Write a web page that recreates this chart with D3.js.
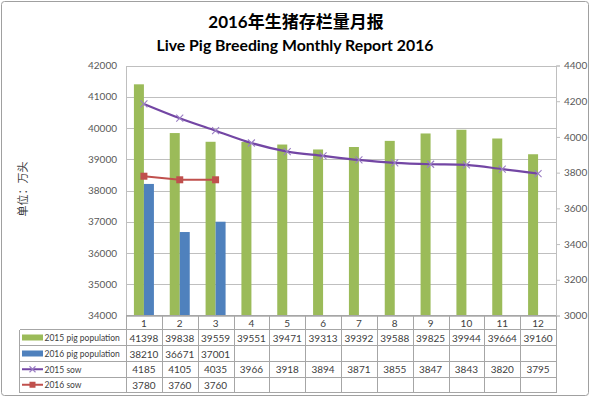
<!DOCTYPE html>
<html><head><meta charset="utf-8">
<script src="https://cdn.jsdelivr.net/npm/d3@7"></script>
<style>
html,body{margin:0;padding:0;background:#fff;}
svg{display:block;font-family:Lato,"Noto Sans CJK SC",sans-serif;}
</style></head>
<body><svg id="c" width="591" height="398"></svg>
<script>
const months = ["1","2","3","4","5","6","7","8","9","10","11","12"];
const pig2015 = [41398,39838,39559,39551,39471,39313,39392,39588,39825,39944,39664,39160];
const pig2016 = [38210,36671,37001];
const sow2015 = [4185,4105,4035,3966,3918,3894,3871,3855,3847,3843,3820,3795];
const sow2016 = [3780,3760,3760];
const leftTicks = [34000,35000,36000,37000,38000,39000,40000,41000,42000];
const rightTicks = [3000,3200,3400,3600,3800,4000,4200,4400];
const seriesNames = ["2015 pig population","2016 pig population","2015 sow","2016 sow"];
const title1 = "2016年生猪存栏量月报";
const title2 = "Live Pig Breeding Monthly Report 2016";
const yLabel = "单位：万头";

const svg = d3.select("#c");
const L=126, R=556, T=65.5, B=315.5;
const rows = [315.5,329.5,345.5,361.5,377,392.5];
const tableLeft = 19.5;
const green="#9BBB59", blue="#4F81BD", purple="#7346A4", red="#C0504D";
const gridC="#BFBFBF", tableC="#A6A6A6", txtC="#404040";

svg.append("rect").attr("x",1.5).attr("y",1.5).attr("width",587).attr("height",394)
  .attr("rx",3).attr("fill","#fff").attr("stroke","#A0A0A0");

const x = d3.scaleBand().domain(months).range([L,R]);
const yL = d3.scaleLinear().domain([34000,42000]).range([B,T]);
const yR = d3.scaleLinear().domain([3000,4400]).range([B,T]);

// titles
svg.append("text").attr("x",296).attr("y",28).attr("text-anchor","middle")
  .attr("font-size",17).attr("font-weight","bold").attr("fill","#000").text(title1);
svg.append("text").attr("x",295).attr("y",51).attr("text-anchor","middle")
  .attr("font-size",16).attr("font-weight","bold").attr("fill","#000")
  .attr("textLength",277).attr("lengthAdjust","spacingAndGlyphs").text(title2);

// gridlines
svg.append("g").selectAll("line").data(leftTicks).join("line")
  .attr("x1",L).attr("x2",R).attr("y1",d=>Math.round(yL(d))+0.5).attr("y2",d=>Math.round(yL(d))+0.5)
  .attr("stroke",gridC);

// left axis
const gl = svg.append("g").attr("transform",`translate(${L},0)`)
  .call(d3.axisLeft(yL).tickValues(leftTicks).tickSize(0).tickPadding(9).tickFormat(d3.format("d")));
gl.select(".domain").attr("stroke",gridC);
gl.selectAll("text").attr("font-size",10).attr("fill","#595959").attr("font-family","Lato,sans-serif");

// right axis
const gr = svg.append("g").attr("transform",`translate(${R},0)`)
  .call(d3.axisRight(yR).tickValues(rightTicks).tickSize(4).tickPadding(4).tickFormat(d3.format("d")));
gr.select(".domain").attr("stroke",gridC);
gr.selectAll("line").attr("stroke",gridC);
gr.selectAll("text").attr("font-size",10).attr("fill","#595959").attr("font-family","Lato,sans-serif");

// y label
svg.append("text").attr("transform","translate(27,189) rotate(-90)").attr("text-anchor","middle")
  .attr("font-size",11).attr("fill","#404040").text(yLabel);

// bars
const bw = 10;
svg.append("g").selectAll("rect").data(pig2015).join("rect")
  .attr("x",(d,i)=>x(months[i])+x.bandwidth()/2-bw).attr("width",bw)
  .attr("y",d=>yL(d)).attr("height",d=>B-yL(d)).attr("fill",green);
svg.append("g").selectAll("rect").data(pig2016).join("rect")
  .attr("x",(d,i)=>x(months[i])+x.bandwidth()/2).attr("width",bw)
  .attr("y",d=>yL(d)).attr("height",d=>B-yL(d)).attr("fill",blue);

// lines
const cx = i => x(months[i])+x.bandwidth()/2;
const line2015 = d3.line().x((d,i)=>cx(i)).y(d=>yR(d)).curve(d3.curveCatmullRom.alpha(0.5));
svg.append("path").datum(sow2015).attr("d",line2015).attr("fill","none").attr("stroke",purple).attr("stroke-width",2.2);
const xMark = (g,px,py,s,c)=>{
  g.append("path").attr("d",`M${px-s},${py-s}L${px+s},${py+s}M${px-s},${py+s}L${px+s},${py-s}`)
   .attr("stroke",c).attr("stroke-width",1.1).attr("fill","none");
};
const gm = svg.append("g");
sow2015.forEach((d,i)=>xMark(gm,cx(i),yR(d),3.5,"#9B7FC4"));
const line2016 = d3.line().x((d,i)=>cx(i)).y(d=>yR(d));
svg.append("path").datum(sow2016).attr("d",line2016).attr("fill","none").attr("stroke",red).attr("stroke-width",2);
svg.append("g").selectAll("rect").data(sow2016).join("rect")
  .attr("x",(d,i)=>cx(i)-3.5).attr("y",d=>yR(d)-3.5).attr("width",7).attr("height",7).attr("fill",red);

// table grid
const tg = svg.append("g").attr("stroke",tableC).attr("shape-rendering","crispEdges");
tg.append("line").attr("x1",L).attr("x2",R).attr("y1",rows[0]).attr("y2",rows[0]);
rows.slice(1).forEach(r=>tg.append("line").attr("x1",tableLeft).attr("x2",R).attr("y1",r).attr("y2",r));
tg.append("line").attr("x1",tableLeft).attr("x2",tableLeft).attr("y1",rows[1]).attr("y2",rows[5]);
months.concat(["end"]).forEach((m,i)=>{
  const xx = i<months.length ? x(m) : R;
  tg.append("line").attr("x1",Math.round(xx)+0.5).attr("x2",Math.round(xx)+0.5).attr("y1",rows[0]).attr("y2",rows[5]);
});

// table text
const tt = svg.append("g").attr("font-size",10).attr("fill",txtC).attr("text-anchor","middle");
months.forEach((m,i)=>tt.append("text").attr("x",cx(i)).attr("y",(rows[0]+rows[1])/2+4).text(m));
[pig2015,pig2016,sow2015,sow2016].forEach((arr,r)=>{
  arr.forEach((v,i)=>tt.append("text").attr("x",cx(i)).attr("y",(rows[r+1]+rows[r+2])/2+4).text(v));
});

// legend column
const lg = svg.append("g");
const legTexts = [];
seriesNames.forEach((n,r)=>{
  const yc = (rows[r+1]+rows[r+2])/2;
  if(r<2){
    lg.append("rect").attr("x",22).attr("y",yc-3).attr("width",21).attr("height",6).attr("fill",r===0?green:blue);
  } else if(r===2){
    lg.append("line").attr("x1",22).attr("x2",43).attr("y1",yc).attr("y2",yc).attr("stroke",purple).attr("stroke-width",2);
    xMark(lg,32.5,yc,3,"#9B7FC4");
  } else {
    lg.append("line").attr("x1",22).attr("x2",43).attr("y1",yc).attr("y2",yc).attr("stroke",red).attr("stroke-width",2);
    lg.append("rect").attr("x",29.5).attr("y",yc-3).attr("width",6).attr("height",6).attr("fill",red);
  }
  legTexts.push(lg.append("text").attr("x",44.5).attr("y",yc+3.5).attr("font-size",10.5)
    .attr("fill",txtC).text(n));
});
let fs = 10.5;
const maxW = () => d3.max(legTexts, t => t.node().getComputedTextLength());
while (maxW() > 76 && fs > 7) { fs -= 0.25; legTexts.forEach(t=>t.attr("font-size",fs)); }
</script></body></html>
